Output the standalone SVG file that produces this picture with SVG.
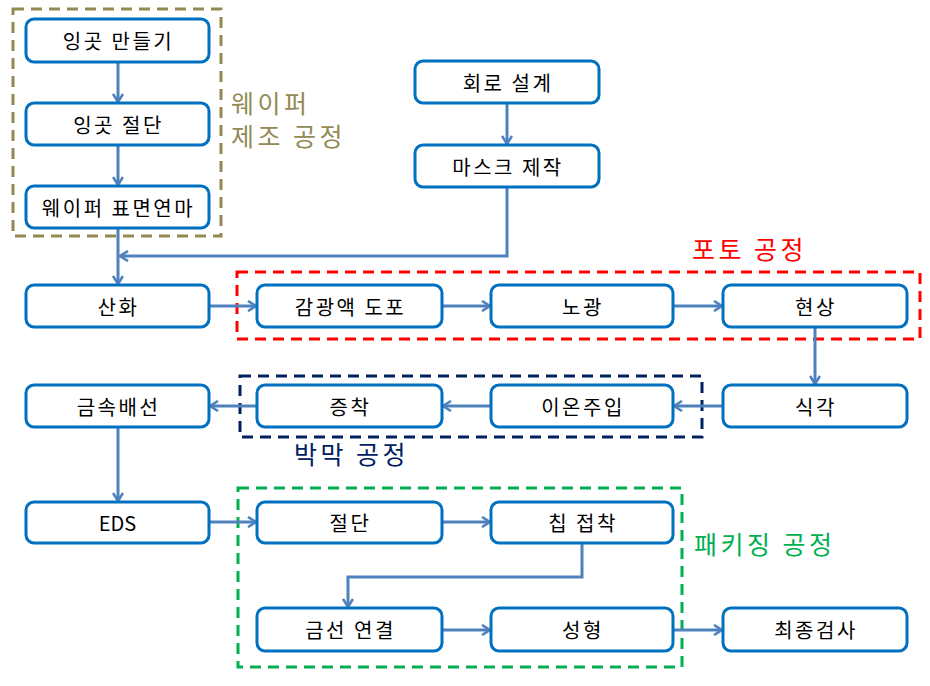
<svg xmlns="http://www.w3.org/2000/svg" width="930" height="686" viewBox="0 0 930 686">
<style>
.box{fill:#fff;stroke:#0070C0;stroke-width:3}
.t{font-family:"Noto Sans CJK KR","Liberation Sans",sans-serif;font-size:20px;letter-spacing:2.5px;fill:#000;text-anchor:middle;dominant-baseline:central}
.c{fill:none;stroke:#4F81BD;stroke-width:3}
.grp{fill:none;stroke-width:3;stroke-dasharray:11 7}
.lbl{font-family:"Noto Sans CJK KR","Liberation Sans",sans-serif;font-size:25px;letter-spacing:3.5px}
</style>
<defs>
<marker id="ah" viewBox="0 0 12 12" refX="10" refY="6" markerWidth="12" markerHeight="12" markerUnits="userSpaceOnUse" orient="auto">
<path d="M2,1 L10,6 L2,11" fill="none" stroke="#4F81BD" stroke-width="2.6"/>
</marker>
</defs>
<rect width="930" height="686" fill="#fff"/>
<g id="groups">
<rect class="grp" x="13" y="9" width="208" height="227" stroke="#938953"/>
<rect class="grp" x="237" y="272" width="683" height="67" stroke="#FF0000"/>
<rect class="grp" x="240" y="376" width="462" height="61" stroke="#002060"/>
<rect class="grp" x="238" y="488" width="444" height="179" stroke="#00B050"/>
<text class="lbl" x="231" y="113" fill="#938953">웨이퍼</text>
<text class="lbl" x="231" y="146" fill="#938953">제조 공정</text>
<text class="lbl" x="692" y="259" fill="#FF0000">포토 공정</text>
<text class="lbl" x="294" y="464" fill="#002060">박막 공정</text>
<text class="lbl" x="694" y="554" fill="#00B050">패키징 공정</text>
</g>
<g id="connectors">
<line class="c" x1="118" y1="62" x2="118" y2="102" marker-end="url(#ah)"/>
<line class="c" x1="118" y1="145" x2="118" y2="185" marker-end="url(#ah)"/>
<line class="c" x1="118" y1="228" x2="118" y2="284" marker-end="url(#ah)"/>
<line class="c" x1="507" y1="103" x2="507" y2="144" marker-end="url(#ah)"/>
<polyline class="c" points="507,187 507,256 120,256" marker-end="url(#ah)"/>
<line class="c" x1="209" y1="306" x2="256" y2="306" marker-end="url(#ah)"/>
<line class="c" x1="442" y1="306" x2="490" y2="306" marker-end="url(#ah)"/>
<line class="c" x1="673" y1="306" x2="722" y2="306" marker-end="url(#ah)"/>
<line class="c" x1="815" y1="327" x2="815" y2="384" marker-end="url(#ah)"/>
<line class="c" x1="723" y1="406" x2="674" y2="406" marker-end="url(#ah)"/>
<line class="c" x1="491" y1="406" x2="443" y2="406" marker-end="url(#ah)"/>
<line class="c" x1="257" y1="406" x2="210" y2="406" marker-end="url(#ah)"/>
<line class="c" x1="118" y1="427" x2="118" y2="501" marker-end="url(#ah)"/>
<line class="c" x1="209" y1="522" x2="256" y2="522" marker-end="url(#ah)"/>
<line class="c" x1="442" y1="522" x2="490" y2="522" marker-end="url(#ah)"/>
<polyline class="c" points="582,543 582,577 348,577 348,607" marker-end="url(#ah)"/>
<line class="c" x1="442" y1="630" x2="490" y2="630" marker-end="url(#ah)"/>
<line class="c" x1="673" y1="630" x2="722" y2="630" marker-end="url(#ah)"/>
</g>
<g id="n1"><rect class="box" x="26" y="19" width="183" height="43" rx="8"/><text class="t" x="118.5" y="40.5">잉곳 만들기</text></g>
<g id="n2"><rect class="box" x="26" y="103" width="183" height="42" rx="8"/><text class="t" x="118.5" y="124">잉곳 절단</text></g>
<g id="n3"><rect class="box" x="26" y="186" width="183" height="42" rx="8"/><text class="t" x="118.5" y="207">웨이퍼 표면연마</text></g>
<g id="n4"><rect class="box" x="415" y="61" width="184" height="42" rx="8"/><text class="t" x="508" y="82">회로 설계</text></g>
<g id="n5"><rect class="box" x="415" y="145" width="184" height="42" rx="8"/><text class="t" x="508" y="166">마스크 제작</text></g>
<g id="n6"><rect class="box" x="26" y="285" width="183" height="42" rx="8"/><text class="t" x="118.5" y="306">산화</text></g>
<g id="n7"><rect class="box" x="257" y="285" width="185" height="42" rx="8"/><text class="t" x="350.5" y="306">감광액 도포</text></g>
<g id="n8"><rect class="box" x="491" y="285" width="182" height="42" rx="8"/><text class="t" x="583" y="306">노광</text></g>
<g id="n9"><rect class="box" x="723" y="285" width="184" height="42" rx="8"/><text class="t" x="816" y="306">현상</text></g>
<g id="n10"><rect class="box" x="26" y="385" width="183" height="42" rx="8"/><text class="t" x="118.5" y="406">금속배선</text></g>
<g id="n11"><rect class="box" x="257" y="385" width="185" height="42" rx="8"/><text class="t" x="350.5" y="406">증착</text></g>
<g id="n12"><rect class="box" x="491" y="385" width="182" height="42" rx="8"/><text class="t" x="583" y="406">이온주입</text></g>
<g id="n13"><rect class="box" x="723" y="385" width="184" height="42" rx="8"/><text class="t" x="816" y="406">식각</text></g>
<g id="n14"><rect class="box" x="26" y="502" width="183" height="41" rx="8"/><text class="t" x="117.5" y="522.5" style="letter-spacing:0">EDS</text></g>
<g id="n15"><rect class="box" x="257" y="502" width="185" height="41" rx="8"/><text class="t" x="350.5" y="522.5">절단</text></g>
<g id="n16"><rect class="box" x="491" y="502" width="182" height="41" rx="8"/><text class="t" x="583" y="522.5">칩 접착</text></g>
<g id="n17"><rect class="box" x="257" y="608" width="185" height="43" rx="8"/><text class="t" x="350.5" y="629.5">금선 연결</text></g>
<g id="n18"><rect class="box" x="491" y="608" width="182" height="43" rx="8"/><text class="t" x="583" y="629.5">성형</text></g>
<g id="n19"><rect class="box" x="723" y="608" width="184" height="43" rx="8"/><text class="t" x="816" y="629.5">최종검사</text></g>
</svg>
